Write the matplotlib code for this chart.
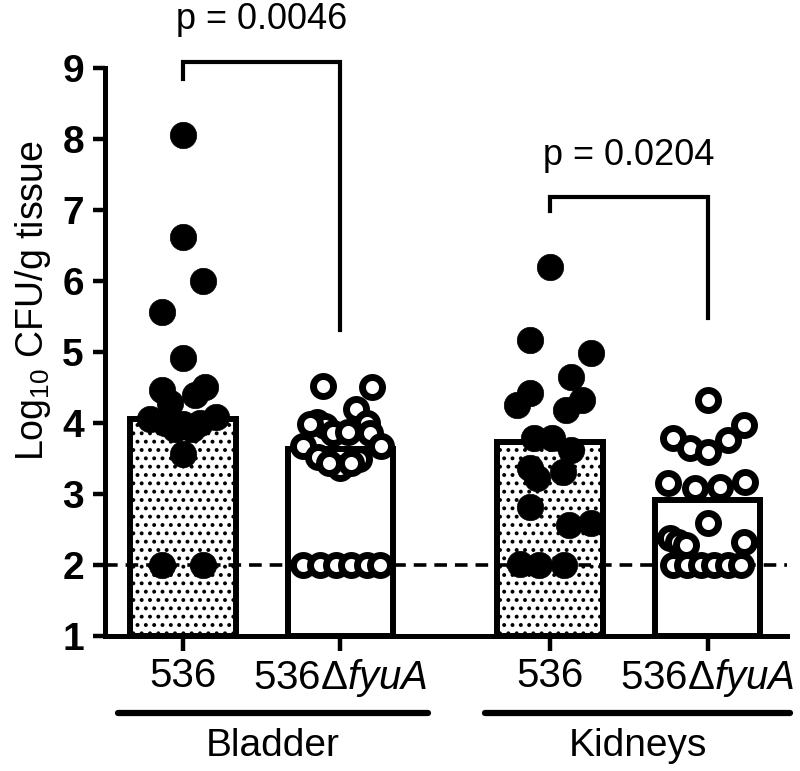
import numpy as np
import matplotlib
matplotlib.use("Agg")
import matplotlib.pyplot as plt
import matplotlib.transforms as mtransforms

plt.rcParams["font.family"] = ["Liberation Sans", "DejaVu Sans"]
plt.rcParams["mathtext.fontset"] = "custom"
plt.rcParams["mathtext.rm"] = "Liberation Sans"
plt.rcParams["mathtext.it"] = "Liberation Sans:italic"
plt.rcParams["hatch.linewidth"] = 1.6

# ---------------------------------------------------------------------
# Data
# ---------------------------------------------------------------------
group_names = ["Bladder", "Kidneys"]
strain_labels = ["536", "536Δ$\\it{fyuA}$", "536", "536Δ$\\it{fyuA}$"]
bar_positions = [0.0, 1.0, 2.33, 3.33]
bar_heights = [4.05, 3.64, 3.73, 2.92]
filled = [True, False, True, False]

# per-point horizontal scatter offsets (x units) and log10 CFU values
bladder_wt_dx = [0.0, 0.0, 0.13, -0.13, 0.0, -0.13, 0.14, -0.08, 0.08,
                 -0.21, 0.21, -0.11, 0.0, 0.11, -0.05, 0.06, 0.0, -0.13, 0.13]
bladder_wt_y = [8.05, 6.62, 6.0, 5.56, 4.92, 4.46, 4.51, 4.28, 4.39,
                4.06, 4.08, 4.0, 3.98, 4.0, 3.92, 3.92, 3.56, 2.0, 2.0]

bladder_mut_dx = [-0.11, 0.2, 0.10, -0.15, -0.10, -0.19, 0.17, -0.05, 0.05,
                  0.19, -0.24, 0.26, 0.0, -0.14, 0.12, -0.07, 0.07,
                  -0.24, -0.13, -0.03, 0.07, 0.17, 0.25]
bladder_mut_y = [4.52, 4.5, 4.2, 4.02, 3.96, 3.98, 4.0, 3.86, 3.88,
                 3.86, 3.68, 3.68, 3.36, 3.52, 3.5, 3.44, 3.43,
                 2.0, 2.0, 2.0, 2.0, 2.0, 2.0]

kidney_wt_dx = [0.0, -0.13, 0.26, 0.13, -0.13, -0.21, 0.20, 0.10,
                -0.10, 0.01, 0.13, -0.13, -0.08, 0.08, -0.13, 0.12, 0.26,
                -0.19, -0.07, 0.09]
kidney_wt_y = [6.2, 5.17, 4.99, 4.65, 4.42, 4.25, 4.32, 4.18,
               3.79, 3.79, 3.62, 3.37, 3.23, 3.31, 2.82, 2.56, 2.59,
               2.02, 2.0, 2.0]

kidney_mut_dx = [0.0, -0.22, -0.11, 0.0, 0.13, 0.23, -0.25, -0.08, 0.08,
                 0.24, 0.0, -0.24, -0.19, -0.14, 0.23,
                 -0.22, -0.13, -0.04, 0.04, 0.13, 0.21]
kidney_mut_y = [4.32, 3.79, 3.65, 3.59, 3.76, 3.97, 3.15, 3.08, 3.1,
                3.17, 2.59, 2.38, 2.32, 2.28, 2.32,
                2.0, 2.0, 2.0, 2.0, 2.0, 2.0]

point_dx = [bladder_wt_dx, bladder_mut_dx, kidney_wt_dx, kidney_mut_dx]
point_y = [bladder_wt_y, bladder_mut_y, kidney_wt_y, kidney_mut_y]

detection_limit = 2.0
p_values = ["p = 0.0046", "p = 0.0204"]
# bracket: left x, right x, top y, left leg bottom, right leg bottom
brackets = [(0.0, 1.0, 9.08, 8.85, 5.31), (2.33, 3.33, 7.18, 6.98, 5.48)]
p_text_y = [9.68, 7.76]

# ---------------------------------------------------------------------
# Figure
# ---------------------------------------------------------------------
fig = plt.figure(figsize=(8.0, 7.71), dpi=100)
ax = fig.add_axes([0.131, 0.175, 0.853, 0.737])

for i, (xpos, height) in enumerate(zip(bar_positions, bar_heights)):
    ax.bar(xpos, height - 1, bottom=1, width=0.67, facecolor="white",
           edgecolor="black", linewidth=4.3, hatch=".." if filled[i] else None,
           zorder=2)

ax.axhline(detection_limit, color="black", linestyle=(0, (3.5, 2.2)),
           linewidth=2.6, zorder=3)

for i, xpos in enumerate(bar_positions):
    xs = xpos + np.array(point_dx[i])
    ys = np.array(point_y[i])
    if filled[i]:
        ax.plot(xs, ys, "o", markersize=19, markerfacecolor="black",
                markeredgecolor="black", markeredgewidth=0.5, zorder=4,
                clip_on=False)
    else:
        ax.plot(xs, ys, "o", markersize=14.4, markerfacecolor="white",
                markeredgecolor="black", markeredgewidth=5, zorder=4,
                clip_on=False)

for (x0, x1, top, left_bot, right_bot), label, ty in zip(brackets, p_values, p_text_y):
    ax.plot([x0, x0, x1, x1], [left_bot, top, top, right_bot], color="black",
            linewidth=3, clip_on=False, solid_joinstyle="miter", zorder=5)
    ax.text((x0 + x1) / 2, ty, label, ha="center", va="center", fontsize=26)

ax.set_xlim(-0.495, 3.835)
ax.set_ylim(1, 9)
ax.set_yticks(range(1, 10))
ax.set_yticklabels([str(v) for v in range(1, 10)], fontsize=28,
                   fontweight="bold")
ax.set_xticks(bar_positions)
ax.set_xticklabels(strain_labels, fontsize=29)
ax.tick_params(axis="y", width=3.2, length=9, direction="out", pad=6)
ax.tick_params(axis="x", width=3.2, length=11, direction="out", pad=4)

for side in ["top", "right"]:
    ax.spines[side].set_visible(False)
for side in ["left", "bottom"]:
    ax.spines[side].set_linewidth(3.6)

ax.text(-0.105, 0.59, "Log$_{10}$ CFU/g tissue", transform=ax.transAxes,
        rotation=90, ha="center", va="center", fontsize=27)

# group underlines and names below the tick labels
trans = mtransforms.blended_transform_factory(ax.transData, ax.transAxes)
group_spans = [(-0.41, 1.556), (1.92, 3.85)]
for (g0, g1), name in zip(group_spans, group_names):
    ax.plot([g0, g1], [-0.136, -0.136], color="black", linewidth=4.5,
            transform=trans, clip_on=False, solid_capstyle="round")
    ax.text((g0 + g1) / 2, -0.193, name, transform=trans, ha="center",
            va="center", fontsize=28)

fig.savefig("out.png", dpi=100)
